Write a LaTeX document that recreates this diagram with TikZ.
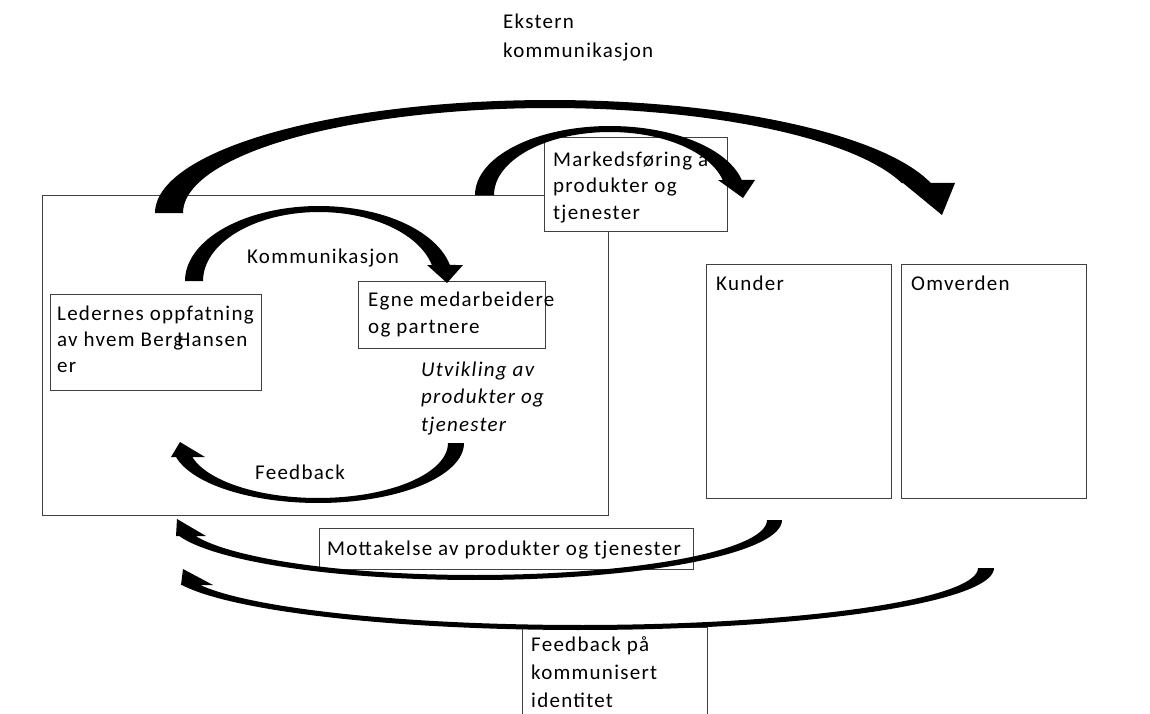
\documentclass[tikz,border=0pt]{standalone}
\usepackage{fontspec}
\setmainfont{Carlito}[LetterSpace=6]
\newcommand\ts{\rule{0pt}{15pt}}
\tikzset{
  box/.style={draw=black!75, line width=0.9pt, inner sep=0pt, anchor=north west},
  txt/.style={inner sep=0pt, anchor=north west, align=left, font=\fontsize{21}{27}\selectfont},
  lbl/.style={inner sep=0pt, anchor=base west, font=\fontsize{21}{24}\selectfont},
  arr/.style={fill=black},
}
\begin{document}
\begin{tikzpicture}[x=1pt,y=-1pt]
\useasboundingbox (0,0) rectangle (1150,714);

% organisation box
\node[box, minimum width=566pt, minimum height=320pt] (org) at (42,195) {};

% outer arrow A (ekstern kommunikasjon)
\fill[arr] plot[domain=180:344.6, samples=90] ({550+395*cos(\x)},{213+113*sin(\x)})
  -- (955,183) -- (942,215) -- (903,183)
  -- plot[domain=343.4:180, samples=90] ({550+367*cos(\x)},{213+105*sin(\x)}) -- cycle;

% Markedsfoering box
\node[box, fill=white, minimum width=183pt, minimum height=94pt] (mark) at (544,137) {};
\node[txt, font=\fontsize{21}{26.5}\selectfont] (marktxt) at (553,151) {\ts Markedsføring av\\produkter og\\tjenester};

% arrow B
\fill[arr] plot[domain=180:347.44, samples=60] ({610+135*cos(\x)},{195+69*sin(\x)})
  -- (755,180) -- (743,198) -- (718,180)
  -- plot[domain=346.23:180, samples=60] ({610+116*cos(\x)},{195+63*sin(\x)}) -- cycle;

% Ekstern kommunikasjon
\node[txt, font=\fontsize{21}{29}\selectfont] (ekstern) at (503,13) {\ts Ekstern\\kommunikasjon};

% inner boxes
\node[box, minimum width=211pt, minimum height=96pt] (led) at (50,294) {};
\node[txt, font=\fontsize{21}{26}\selectfont] (ledtxt) at (57,305) {\ts Ledernes oppfatning\\av hvem Berg\kern-6pt Hansen\\er};
\node[box, minimum width=187pt, minimum height=67pt] (egne) at (358,281) {};
\node[txt] (egnetxt) at (368,291) {\ts Egne medarbeidere\\og partnere};

% arrow C (Kommunikasjon)
\fill[arr] plot[domain=180:347.68, samples=60] ({319+134*cos(\x)},{281+75*sin(\x)})
  -- (463,265) -- (447,283) -- (427,265)
  -- plot[domain=346.59:180, samples=60] ({319+116*cos(\x)},{281+69*sin(\x)}) -- cycle;
\node[lbl] (komm) at (247,263) {Kommunikasjon};

% Utvikling
\node[txt, font=\itshape\fontsize{21}{27.5}\selectfont] (utv) at (421,361) {\ts Utvikling av\\produkter og\\tjenester};

% arrow D (Feedback)
\fill[arr] plot[domain=0:166.51, samples=60] ({318+146*cos(\x)},{443+60*sin(\x)})
  -- (171,457) -- (180,442) -- (205,457)
  -- plot[domain=165.25:0, samples=60] ({318+130*cos(\x)},{443+55*sin(\x)}) -- cycle;
\node[lbl] (fb) at (255,479) {Feedback};

% Kunder / Omverden
\node[box, minimum width=185pt, minimum height=234pt] (kunder) at (706,264) {};
\node[lbl] (kundertxt) at (716,290) {Kunder};
\node[box, minimum width=185pt, minimum height=234pt] (omv) at (901,264) {};
\node[lbl] (omvtxt) at (911,290) {Omverden};

% Mottakelse
\node[box, minimum width=374pt, minimum height=41pt] (mott) at (319,528) {};
\node[lbl] (motttxt) at (327,555) {Mottakelse av produkter og tjenester};

% arrow E
\fill[arr] plot[domain=0:164.53, samples=90] ({475+307*cos(\x)},{520+60*sin(\x)})
  -- (176,536) -- (177,519) -- (206,536)
  -- plot[domain=163.09:0, samples=90] ({475+292*cos(\x)},{520+55*sin(\x)}) -- cycle;

% Feedback paa kommunisert identitet
\node[box, fill=white, minimum width=185pt, minimum height=90pt] (fbk) at (522,627) {};
\node[txt, font=\fontsize{21}{28}\selectfont] (fbktxt) at (531,636) {\ts Feedback på\\kommunisert\\identitet};

% arrow F
\fill[arr] plot[domain=0:164.09, samples=90] ({580+414*cos(\x)},{568+62*sin(\x)})
  -- (181,585) -- (183,569) -- (213,585)
  -- plot[domain=162.65:0, samples=90] ({580+398*cos(\x)},{568+57*sin(\x)}) -- cycle;
\end{tikzpicture}
\end{document}
